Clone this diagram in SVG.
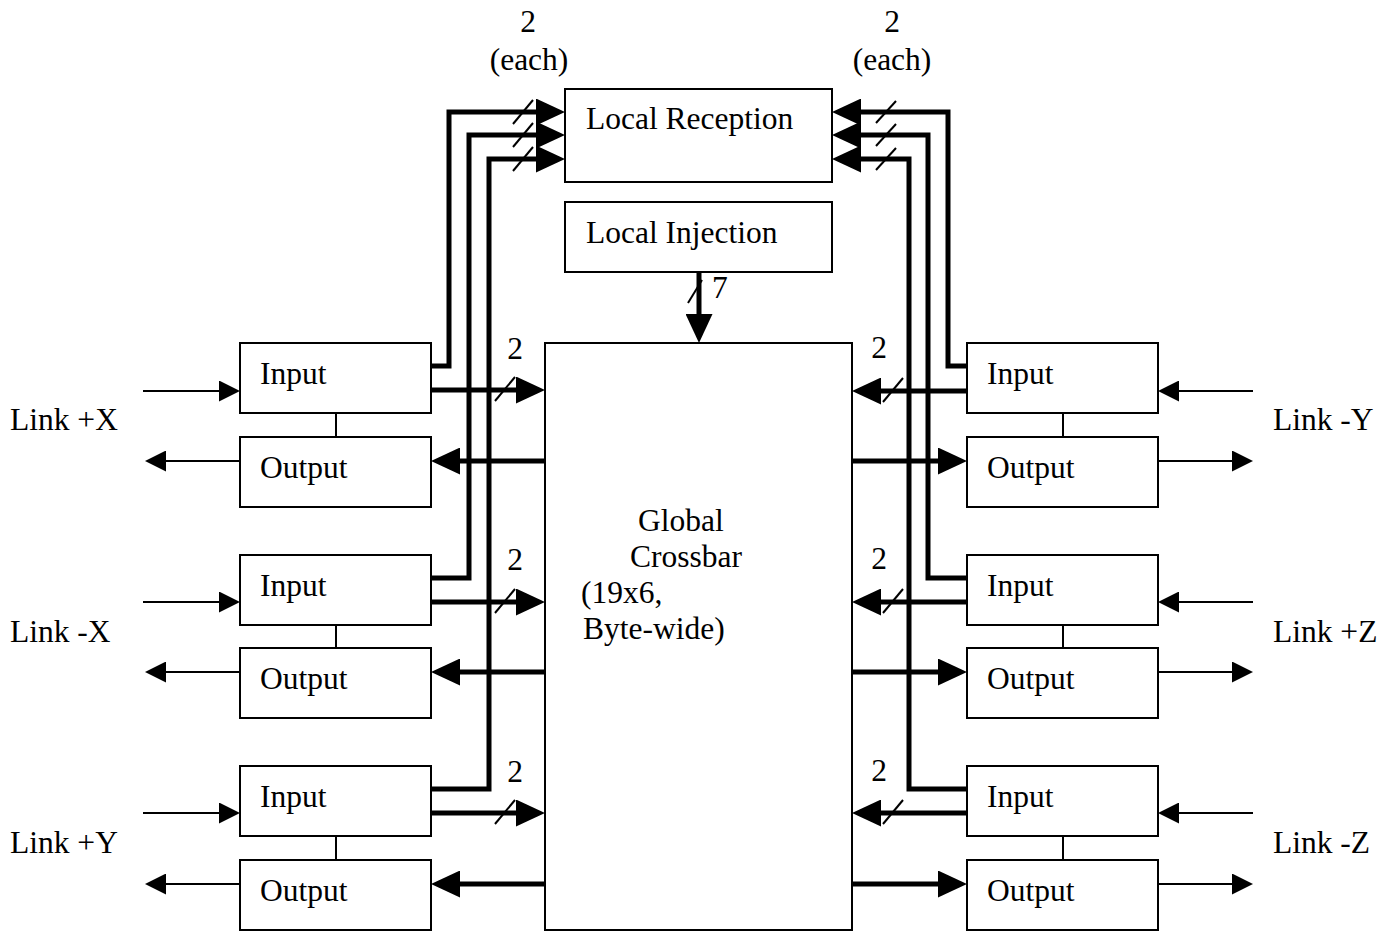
<svg xmlns="http://www.w3.org/2000/svg" width="1395" height="933" viewBox="0 0 1395 933">
<defs>
<style>
.box{fill:#fff;stroke:#000;stroke-width:2}
.t{font-family:"Liberation Serif","Times New Roman",serif;font-size:31.5px;fill:#000}
.m{text-anchor:middle}
.thick{fill:none;stroke:#000;stroke-width:5;stroke-linejoin:miter}
.thin{fill:none;stroke:#000;stroke-width:2}
.sl{stroke:#000;stroke-width:2}
.tie{stroke:#000;stroke-width:2}
.ah{marker-end:url(#big)}
.ahs{marker-end:url(#small)}
</style>
<marker id="big" markerUnits="userSpaceOnUse" viewBox="0 0 29 27" markerWidth="29" markerHeight="27" refX="15" refY="13.5" orient="auto">
<path d="M0,0 L29,13.5 L0,27 z" fill="#000"/>
</marker>
<marker id="small" markerUnits="userSpaceOnUse" viewBox="0 0 21 21" markerWidth="21" markerHeight="21" refX="11" refY="10.5" orient="auto">
<path d="M0,0 L21,10.5 L0,21 z" fill="#000"/>
</marker>
</defs>
<rect width="1395" height="933" fill="#fff"/>

<g id="local-reception"><rect class="box" x="565" y="89" width="267" height="93"/><text class="t" x="586" y="129">Local Reception</text></g>
<g id="local-injection"><rect class="box" x="565" y="202" width="267" height="70"/><text class="t" x="586" y="243">Local Injection</text></g>
<g id="crossbar"><rect class="box" x="545" y="343" width="307" height="587"/>
<text class="t" x="638" y="531">Global</text><text class="t" x="630" y="567">Crossbar</text><text class="t" x="581" y="603">(19x6,</text><text class="t" x="583" y="639">Byte-wide)</text></g>

<g id="left-x-plus"><rect class="box" x="240" y="343" width="191" height="70"/><text class="t" x="260" y="384">Input</text>
<line class="tie" x1="336" y1="413" x2="336" y2="437"/>
<rect class="box" x="240" y="437" width="191" height="70"/><text class="t" x="260" y="478">Output</text>
<text class="t" x="10" y="430">Link +X</text></g>
<g id="left-x-minus"><rect class="box" x="240" y="555" width="191" height="70"/><text class="t" x="260" y="596">Input</text>
<line class="tie" x1="336" y1="625" x2="336" y2="648"/>
<rect class="box" x="240" y="648" width="191" height="70"/><text class="t" x="260" y="689">Output</text>
<text class="t" x="10" y="642">Link -X</text></g>
<g id="left-y-plus"><rect class="box" x="240" y="766" width="191" height="70"/><text class="t" x="260" y="807">Input</text>
<line class="tie" x1="336" y1="836" x2="336" y2="860"/>
<rect class="box" x="240" y="860" width="191" height="70"/><text class="t" x="260" y="901">Output</text>
<text class="t" x="10" y="853">Link +Y</text></g>

<g id="right-y-minus"><rect class="box" x="967" y="343" width="191" height="70"/><text class="t" x="987" y="384">Input</text>
<line class="tie" x1="1063" y1="413" x2="1063" y2="437"/>
<rect class="box" x="967" y="437" width="191" height="70"/><text class="t" x="987" y="478">Output</text>
<text class="t" x="1273" y="430">Link -Y</text></g>
<g id="right-z-plus"><rect class="box" x="967" y="555" width="191" height="70"/><text class="t" x="987" y="596">Input</text>
<line class="tie" x1="1063" y1="625" x2="1063" y2="648"/>
<rect class="box" x="967" y="648" width="191" height="70"/><text class="t" x="987" y="689">Output</text>
<text class="t" x="1273" y="642">Link +Z</text></g>
<g id="right-z-minus"><rect class="box" x="967" y="766" width="191" height="70"/><text class="t" x="987" y="807">Input</text>
<line class="tie" x1="1063" y1="836" x2="1063" y2="860"/>
<rect class="box" x="967" y="860" width="191" height="70"/><text class="t" x="987" y="901">Output</text>
<text class="t" x="1273" y="853">Link -Z</text></g>

<g id="connectors">
<!-- link arrows -->
<line class="thin ahs" x1="143" y1="391" x2="230" y2="391"/>
<line class="thin ahs" x1="240" y1="461" x2="155" y2="461"/>
<line class="thin ahs" x1="143" y1="602" x2="230" y2="602"/>
<line class="thin ahs" x1="240" y1="672" x2="155" y2="672"/>
<line class="thin ahs" x1="143" y1="813" x2="230" y2="813"/>
<line class="thin ahs" x1="240" y1="884" x2="155" y2="884"/>
<line class="thin ahs" x1="1253" y1="391" x2="1168" y2="391"/>
<line class="thin ahs" x1="1158" y1="461" x2="1243" y2="461"/>
<line class="thin ahs" x1="1253" y1="602" x2="1168" y2="602"/>
<line class="thin ahs" x1="1158" y1="672" x2="1243" y2="672"/>
<line class="thin ahs" x1="1253" y1="813" x2="1168" y2="813"/>
<line class="thin ahs" x1="1158" y1="884" x2="1243" y2="884"/>
<!-- input to crossbar / crossbar to output -->
<line class="thick ah" x1="431" y1="390" x2="531" y2="390"/>
<line class="thick ah" x1="545" y1="461" x2="445" y2="461"/>
<line class="thick ah" x1="431" y1="602" x2="531" y2="602"/>
<line class="thick ah" x1="545" y1="672" x2="445" y2="672"/>
<line class="thick ah" x1="431" y1="813" x2="531" y2="813"/>
<line class="thick ah" x1="545" y1="884" x2="445" y2="884"/>
<line class="thick ah" x1="967" y1="391" x2="866" y2="391"/>
<line class="thick ah" x1="852" y1="461" x2="953" y2="461"/>
<line class="thick ah" x1="967" y1="602" x2="866" y2="602"/>
<line class="thick ah" x1="852" y1="672" x2="953" y2="672"/>
<line class="thick ah" x1="967" y1="813" x2="866" y2="813"/>
<line class="thick ah" x1="852" y1="884" x2="953" y2="884"/>
<!-- to local reception -->
<path class="thick ah" d="M431,366 H449 V112 H551"/>
<path class="thick ah" d="M431,578 H469 V135 H551"/>
<path class="thick ah" d="M431,789 H489 V159 H551"/>
<path class="thick ah" d="M967,366 H948 V112 H846"/>
<path class="thick ah" d="M967,578 H928 V135 H846"/>
<path class="thick ah" d="M967,789 H909 V159 H846"/>
<!-- injection -->
<line class="thick ah" x1="699" y1="272" x2="699" y2="329"/>
<!-- bus slashes -->
<line class="sl" x1="513" y1="124" x2="533" y2="100"/>
<line class="sl" x1="513" y1="147" x2="533" y2="123"/>
<line class="sl" x1="513" y1="171" x2="533" y2="147"/>
<line class="sl" x1="876" y1="123" x2="896" y2="101"/>
<line class="sl" x1="876" y1="146" x2="896" y2="124"/>
<line class="sl" x1="876" y1="170" x2="896" y2="148"/>
<line class="sl" x1="688" y1="303" x2="702" y2="280"/>
<line class="sl" x1="495" y1="401" x2="515" y2="377"/>
<line class="sl" x1="495" y1="613" x2="515" y2="589"/>
<line class="sl" x1="495" y1="824" x2="515" y2="800"/>
<line class="sl" x1="883" y1="402" x2="903" y2="378"/>
<line class="sl" x1="883" y1="613" x2="903" y2="589"/>
<line class="sl" x1="883" y1="824" x2="903" y2="800"/>
</g>

<g id="labels">
<text class="t m" x="528" y="32">2</text><text class="t m" x="529" y="70">(each)</text>
<text class="t m" x="892" y="32">2</text><text class="t m" x="892" y="70">(each)</text>
<text class="t" x="712" y="298">7</text>
<text class="t m" x="515" y="359">2</text><text class="t m" x="515" y="570">2</text><text class="t m" x="515" y="782">2</text>
<text class="t m" x="879" y="358">2</text><text class="t m" x="879" y="569">2</text><text class="t m" x="879" y="781">2</text>
</g>
</svg>
